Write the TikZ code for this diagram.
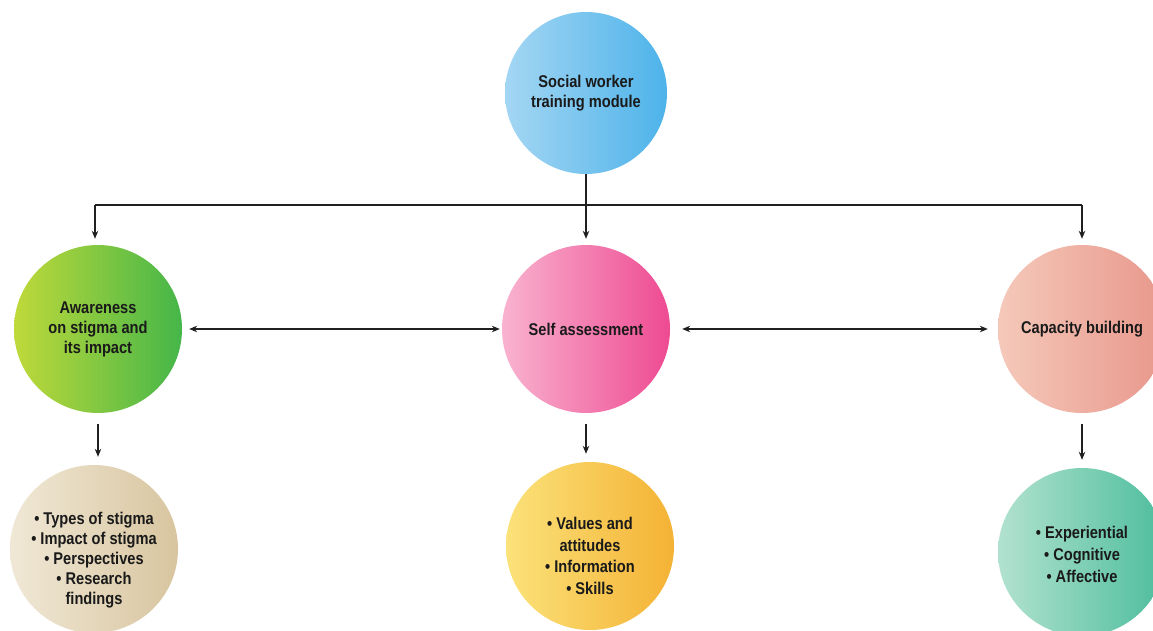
\documentclass[tikz,border=0pt]{standalone}
\usepackage{fontspec}
\setmainfont{Liberation Sans}[FakeStretch=0.86]
\usetikzlibrary{arrows.meta}
\definecolor{txt}{HTML}{1A1A1A}
\definecolor{lnk}{HTML}{202020}
\definecolor{blueA}{HTML}{A4D6F3}\definecolor{blueB}{HTML}{4DB3EA}
\definecolor{greenA}{HTML}{BFD93A}\definecolor{greenB}{HTML}{45B649}
\definecolor{pinkA}{HTML}{F9B3CF}\definecolor{pinkB}{HTML}{EE4A92}
\definecolor{salmonA}{HTML}{F5C9BA}\definecolor{salmonB}{HTML}{E8978B}
\definecolor{beigeA}{HTML}{F0E8D6}\definecolor{beigeB}{HTML}{D8C59F}
\definecolor{yellowA}{HTML}{FBE27A}\definecolor{yellowB}{HTML}{F4B234}
\definecolor{mintA}{HTML}{B2E2CF}\definecolor{mintB}{HTML}{4DBD9C}
\tikzset{
  bubble/.style={circle, draw=none, minimum size=168pt, inner sep=0pt,
    align=center, text=txt, font=\bfseries\fontsize{17}{20}\selectfont},
  bubbletext/.style={align=center, text=txt, font=\bfseries\fontsize{17}{20}\selectfont},
  tip/.style={Stealth[length=8pt,width=6.5pt]},
  arr/.style={draw=lnk, line width=1.2pt, -{Stealth[length=8pt,width=6.5pt]}},
  darr/.style={draw=lnk, line width=1.2pt, {Stealth[length=8pt,width=6.5pt]}-{Stealth[length=8pt,width=6.5pt]}},
  bus/.style={draw=lnk, line width=1.2pt},
}
\begin{document}
\begin{tikzpicture}[x=1pt,y=1pt]
\useasboundingbox (0,0) rectangle (1153,-631);
\clip (0,0) rectangle (1153,-631);
\fill[white] (0,0) rectangle (1153,-631);

% top module
\node[bubble, minimum size=162pt, left color=blueA, right color=blueB] (top) at (586,-93)
  {Social worker\\training module};

% second row
\node[bubble, left color=greenA, right color=greenB] (aware) at (98,-329)
  {Awareness\\on stigma and\\its impact};
\node[bubble, left color=pinkA, right color=pinkB] (self) at (586,-329)
  {Self assessment};
\node[bubble, left color=salmonA, right color=salmonB] (cap) at (1082,-329)
  {Capacity building};

% third row: circles and their bullet lists
\node[bubble, left color=beigeA, right color=beigeB] (types) at (94,-549) {};
\node[bubbletext] (typestxt) at (94,-560)
  {\textbullet\ Types of stigma\\\textbullet\ Impact of stigma\\\textbullet\ Perspectives\\\textbullet\ Research\\findings};
\node[bubble, left color=yellowA, right color=yellowB] (vals) at (590,-546) {};
\node[bubbletext, font=\bfseries\fontsize{17}{21.5}\selectfont] (valstxt) at (590,-556)
  {\textbullet\ Values and\\attitudes\\\textbullet\ Information\\\textbullet\ Skills};
\node[bubble, left color=mintA, right color=mintB] (exp) at (1082,-552) {};
\node[bubbletext, font=\bfseries\fontsize{17}{22}\selectfont] (exptxt) at (1082,-554)
  {\textbullet\ Experiential\\\textbullet\ Cognitive\\\textbullet\ Affective};

% distribution bus
\coordinate (busL) at (95,-205);
\coordinate (busM) at (586,-205);
\coordinate (busR) at (1082,-205);
\draw[bus] (top.south) -- (busM);
\draw[bus] (busL) -- (busR);
\draw[arr, shorten >=6pt] (busL) -- (busL |- aware.north);
\draw[arr, shorten >=6pt] (busM) -- (self);
\draw[arr, shorten >=6pt] (busR) -- (cap);

% links between the second-row topics
\draw[darr, shorten <=7pt, shorten >=2pt] (aware) -- (self);
\draw[darr, shorten <=12pt, shorten >=10pt] (self) -- (cap);

% topic to content
\draw[arr, shorten <=11pt, shorten >=8pt] (aware.south) -- (aware.south |- types.north);
\draw[arr, shorten <=11pt, shorten >=8pt] (self.south) -- (self.south |- vals.north);
\draw[arr, shorten <=11pt, shorten >=8pt] (cap.south) -- (cap.south |- exp.north);
\end{tikzpicture}
\end{document}
